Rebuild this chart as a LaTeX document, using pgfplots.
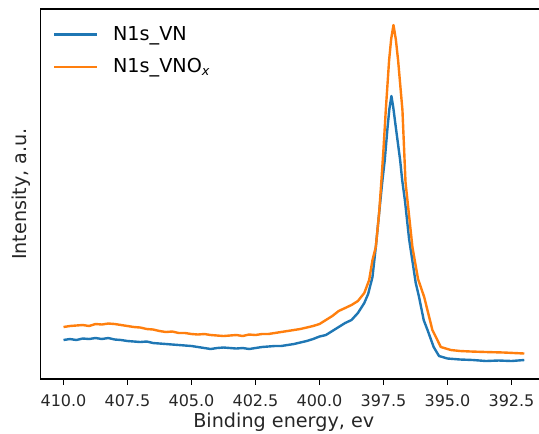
\documentclass[border=0pt]{standalone}
\usepackage{pgfplots}
\pgfplotsset{compat=1.18}
\usepackage{fontspec}
\setmainfont{DejaVu Sans}

\definecolor{mplblue}{HTML}{1F77B4}
\definecolor{mplorange}{HTML}{FF7F0E}

% N1s spectra: binding energy (eV) and intensity (arbitrary units)
\pgfplotstableread{
E I
410.0 39
409.75 40
409.5 39
409.25 40.5
409.0 40
408.75 41
408.5 40
408.25 41
408.0 39.5
407.75 39
407.5 38
407.25 37.5
407.0 37
406.75 37.5
406.5 36
406.25 35.5
406.0 35
405.75 34.5
405.5 34
405.25 33.5
405.0 33
404.75 32
404.5 31
404.25 30
404.0 31
403.75 31.5
403.5 31
403.25 30.5
403.0 31
402.75 30
402.5 31
402.25 32
402.0 32.5
401.75 33
401.5 33
401.25 34
401.0 35
400.75 36.5
400.5 38
400.25 40
400.0 42.5
399.75 44
399.5 48
399.25 52
399.0 56
398.75 59
398.5 66
398.25 76
398.1 85
397.93 102
397.8 132
397.67 166
397.54 199
397.45 219
397.34 252
397.27 270
397.19 283
397.12 272
397.02 252
396.85 219
396.77 199
396.66 178
396.5 140
396.24 96
396.11 82
395.93 59
395.78 49
395.54 32
395.33 23
395.0 20.5
394.75 20
394.5 19.5
394.0 19
393.5 18
393.0 18.5
392.5 18
392.0 19
}\vnspectrum

\pgfplotstableread{
E I
410.0 52
409.75 53
409.5 53.5
409.25 54
409.0 53
408.75 55
408.5 54.5
408.25 55.5
408.0 55
407.75 54
407.5 53
407.25 52
407.0 51.5
406.75 50
406.5 49.5
406.25 48
406.0 47
405.75 47.5
405.5 46
405.25 46
405.0 45
404.75 44.5
404.5 45
404.25 44
404.0 43.5
403.75 43
403.5 43.5
403.25 44
403.0 43
402.75 44.5
402.5 44
402.25 45
402.0 45
401.75 46
401.5 47
401.25 48
401.0 49
400.75 50
400.5 51.5
400.25 53
400.0 55
399.75 59
399.5 63
399.25 68
399.0 71
398.75 74
398.5 78
398.25 86
398.06 99
397.93 119
397.8 132
397.67 166
397.58 199
397.5 230
397.41 269
397.28 319
397.2 340
397.11 354
397.02 340
396.93 319
396.76 269
396.64 197
396.37 132
396.15 100
395.91 82
395.59 49
395.26 32
394.87 29
394.5 28
394.09 27.5
393.5 27
392.8 26.5
392.0 25.5
}\vnoxspectrum

\begin{document}
\begin{tikzpicture}
\useasboundingbox (-25.3pt,-33.75pt) rectangle (311.6pt,236.9pt);
\clip (-25.3pt,-33.75pt) rectangle (311.6pt,236.9pt);
\begin{axis}[
  at={(0pt,0pt)}, anchor=south west,
  scale only axis,
  width=316.8pt, height=231.25pt,
  x dir=reverse,
  xmin=391.1, xmax=410.9,
  ymin=0, ymax=370,
  axis line style={line width=0.8pt},
  xtick={392.5,395,397.5,400,402.5,405,407.5,410},
  ytick=\empty,
  tick align=outside,
  major tick length=3.5pt,
  every tick/.style={black, line width=0.8pt},
  xtick pos=bottom,
  /pgf/number format/.cd, fixed, fixed zerofill, precision=1, assume math mode=true,
  /pgfplots/.cd,
  xticklabel style={font=\fontsize{10}{12}\selectfont, text=black!85, yshift=-2.5pt},
  xlabel={Binding energy, ev},
  ylabel={Intensity, a.u.},
  xlabel style={at={(axis description cs:0.48,0)}, anchor=base, yshift=-30.6pt,
    font=\fontsize{12}{14}\selectfont, text=black!85},
  ylabel style={at={([xshift=-12.2pt]axis description cs:0,0.5)}, anchor=center,
    font=\fontsize{12}{14}\selectfont, text=black!85},
  legend style={at={(axis description cs:0.018,0.972)}, anchor=north west,
    draw=none, fill=none, font=\fontsize{12}{14}\selectfont,
    row sep=6pt, inner sep=2pt},
  legend cell align=left,
  legend image code/.code={%
    \draw[#1, line width=1.5pt] (0pt,0pt) -- (26.9pt,0pt);
    \path (34pt,0pt);},
]
\addplot[mplblue, line width=1.5pt, line join=round] table[x=E, y=I] {\vnspectrum};
\addlegendentry{N1s\_VN}
\addplot[mplorange, line width=1.5pt, line join=round] table[x=E, y=I] {\vnoxspectrum};
\addlegendentry{N1s\_VNO\textsubscript{\textit{x}}}
\end{axis}
\end{tikzpicture}
\end{document}
